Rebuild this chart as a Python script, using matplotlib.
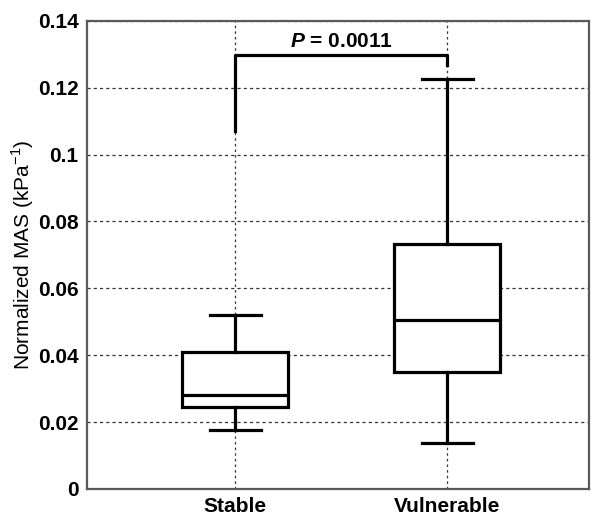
import matplotlib
matplotlib.use("Agg")
import matplotlib.pyplot as plt

# values
groups = ["Stable", "Vulnerable"]
whisker_low = [0.0177, 0.0139]
q1 = [0.0246, 0.0351]
medians = [0.0282, 0.0505]
q3 = [0.0409, 0.0733]
whisker_high = [0.0521, 0.1225]

bracket_left = 0.107
bracket_top = 0.1299
bracket_right = 0.1269
p_label = "0.0011"

plt.rcParams['font.family'] = ['Liberation Sans', 'DejaVu Sans']
plt.rcParams['mathtext.fontset'] = 'custom'
plt.rcParams['mathtext.rm'] = 'Liberation Sans'
plt.rcParams['mathtext.bfit'] = 'Liberation Sans:bold:italic'

fig = plt.figure(figsize=(5.91, 5.15), dpi=100)
ax = fig.add_axes([0.147, 0.0505, 0.850, 0.909])

stats = []
for i, g in enumerate(groups):
    stats.append({'label': g, 'whislo': whisker_low[i], 'q1': q1[i],
                  'med': medians[i], 'q3': q3[i], 'whishi': whisker_high[i],
                  'fliers': []})

line = dict(color='black', linewidth=2.3)
ax.bxp(stats, positions=[1, 2], widths=0.5, patch_artist=True,
       boxprops=dict(facecolor='white', edgecolor='black', linewidth=2.3),
       medianprops=line, whiskerprops=line, capprops=line,
       capwidths=0.24, showfliers=False, zorder=3)

ax.set_xlim(0.3, 2.67)
ax.set_ylim(0, 0.14)
ax.set_yticks([0, 0.02, 0.04, 0.06, 0.08, 0.1, 0.12, 0.14])
ax.set_yticklabels(["0", "0.02", "0.04", "0.06", "0.08", "0.1", "0.12", "0.14"])
ax.set_xticks([1, 2])
ax.set_xticklabels(groups)

ax.yaxis.grid(True, linestyle=(0, (2.5, 2.5)), color='#333333', linewidth=0.9, zorder=0)
ax.xaxis.grid(True, linestyle=(0, (2, 2.5)), color='#333333', linewidth=0.9, zorder=0)
ax.set_axisbelow(True)

ax.tick_params(length=0, labelsize=15, pad=6)
for lab in ax.get_xticklabels() + ax.get_yticklabels():
    lab.set_fontweight('bold')
for s in ax.spines.values():
    s.set_color('#5a5a5a')
    s.set_linewidth(1.6)

ax.set_ylabel("Normalized MAS (kPa$^{-1}$)", fontsize=15, labelpad=1)

# significance bracket
ax.plot([1, 1, 2, 2], [bracket_left, bracket_top, bracket_top, bracket_right],
        color='black', linewidth=2.3, zorder=4)
ax.text(1.5, bracket_top + 0.0012, r"$\mathbfit{P}$ = " + p_label,
        ha='center', va='bottom', fontsize=15, fontweight='bold')

fig.savefig("out.png", dpi=100)
